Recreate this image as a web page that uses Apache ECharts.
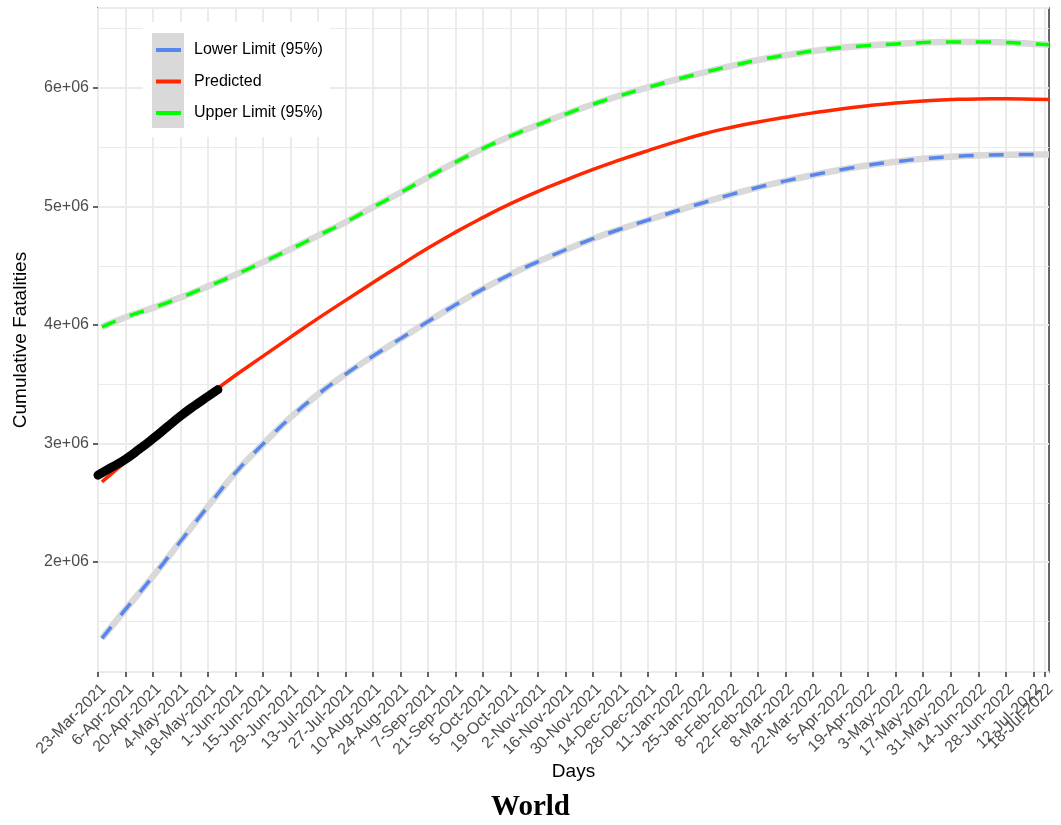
<!DOCTYPE html>
<html>
<head>
<meta charset="utf-8">
<title>World</title>
<script src="https://cdn.jsdelivr.net/npm/echarts@6/dist/echarts.min.js"></script>
<style>
  html, body { margin: 0; padding: 0; background: #ffffff; }
  #chart { width: 1061px; height: 825px; }
</style>
</head>
<body>
<div id="chart"></div>
<script>
// Axis tick labels along the date axis (every two weeks, plus the last forecast day)
const tickLabels = [
  '23-Mar-2021', '6-Apr-2021', '20-Apr-2021', '4-May-2021', '18-May-2021',
  '1-Jun-2021', '15-Jun-2021', '29-Jun-2021', '13-Jul-2021', '27-Jul-2021',
  '10-Aug-2021', '24-Aug-2021', '7-Sep-2021', '21-Sep-2021', '5-Oct-2021',
  '19-Oct-2021', '2-Nov-2021', '16-Nov-2021', '30-Nov-2021', '14-Dec-2021',
  '28-Dec-2021', '11-Jan-2022', '25-Jan-2022', '8-Feb-2022', '22-Feb-2022',
  '8-Mar-2022', '22-Mar-2022', '5-Apr-2022', '19-Apr-2022', '3-May-2022',
  '17-May-2022', '31-May-2022', '14-Jun-2022', '28-Jun-2022', '12-Jul-2022',
  '18-Jul-2022'
];

// Forecast dates
const forecastDates = [
  '25-Mar-2021', '6-Apr-2021', '20-Apr-2021', '4-May-2021', '18-May-2021',
  '1-Jun-2021', '15-Jun-2021', '29-Jun-2021', '13-Jul-2021', '27-Jul-2021',
  '10-Aug-2021', '24-Aug-2021', '7-Sep-2021', '21-Sep-2021', '5-Oct-2021',
  '19-Oct-2021', '2-Nov-2021', '16-Nov-2021', '30-Nov-2021', '14-Dec-2021',
  '28-Dec-2021', '11-Jan-2022', '25-Jan-2022', '8-Feb-2022', '22-Feb-2022',
  '8-Mar-2022', '22-Mar-2022', '5-Apr-2022', '19-Apr-2022', '3-May-2022',
  '17-May-2022', '31-May-2022', '14-Jun-2022', '28-Jun-2022', '12-Jul-2022',
  '20-Jul-2022'
];

// Cumulative fatalities (millions)
const predicted = [
  2.676, 2.845, 3.035, 3.220, 3.403, 3.576, 3.737, 3.898, 4.056, 4.208,
  4.358, 4.505, 4.650, 4.784, 4.908, 5.024, 5.128, 5.222, 5.313, 5.395,
  5.472, 5.545, 5.612, 5.667, 5.713, 5.753, 5.790, 5.823, 5.851, 5.874,
  5.891, 5.902, 5.908, 5.909, 5.906, 5.903
];
const upperLimit = [
  3.983, 4.065, 4.145, 4.232, 4.326, 4.425, 4.531, 4.640, 4.754, 4.868,
  4.995, 5.118, 5.248, 5.374, 5.490, 5.595, 5.690, 5.780, 5.863, 5.938,
  6.005, 6.070, 6.130, 6.185, 6.236, 6.277, 6.312, 6.339, 6.358, 6.372,
  6.383, 6.389, 6.389, 6.384, 6.372, 6.365
];
const lowerLimit = [
  1.356, 1.600, 1.880, 2.175, 2.470, 2.755, 2.995, 3.220, 3.415, 3.585,
  3.738, 3.885, 4.030, 4.170, 4.305, 4.428, 4.535, 4.635, 4.728, 4.810,
  4.886, 4.960, 5.032, 5.100, 5.162, 5.216, 5.266, 5.310, 5.348, 5.378,
  5.403, 5.420, 5.431, 5.437, 5.439, 5.439
];

// Reported cumulative fatalities (millions)
const observedDates = [
  '23-Mar-2021', '30-Mar-2021', '6-Apr-2021', '13-Apr-2021', '20-Apr-2021',
  '27-Apr-2021', '4-May-2021', '11-May-2021', '18-May-2021', '23-May-2021'
];
const observed = [2.733, 2.800, 2.868, 2.952, 3.042, 3.137, 3.232, 3.318, 3.398, 3.455];

// Day-by-day category axis from the first report to the end of the forecast
const MONTHS = ['Jan','Feb','Mar','Apr','May','Jun','Jul','Aug','Sep','Oct','Nov','Dec'];
function dayLabel(d) {
  return d.getUTCDate() + '-' + MONTHS[d.getUTCMonth()] + '-' + d.getUTCFullYear();
}
const days = [];
for (let t = Date.UTC(2021, 2, 23); t <= Date.UTC(2022, 6, 20); t += 86400000) {
  days.push(dayLabel(new Date(t)));
}
const tickSet = new Set(tickLabels);
const isTick = (idx) => tickSet.has(days[idx]);

const pairs = (dates, vals) => dates.map((d, i) => [d, vals[i] * 1e6]);

const FONT = 'Liberation Sans, Arial, Helvetica, sans-serif';
const GRID_COLOR = '#EBEBEB';
const BAND = '#D9D9D9';
const BLUE = '#5787EC';
const RED = '#FF2600';
const GREEN = '#00FF00';
const SMOOTH = 0.5;

const chart = echarts.init(document.getElementById('chart'), null, { renderer: 'canvas' });

function limitLine(name, vals, color) {
  return {
    name: name, type: 'line', z: 3,
    data: pairs(forecastDates, vals), showSymbol: false, symbol: 'none',
    smooth: SMOOTH, color: color,
    lineStyle: { color: color, width: 3.5, type: [15, 15] }
  };
}
function bandLine(name, vals) {
  return {
    name: name, type: 'line', z: 2, silent: true,
    data: pairs(forecastDates, vals), showSymbol: false, symbol: 'none',
    smooth: SMOOTH,
    lineStyle: { color: BAND, width: 6.5 }
  };
}

const option = {
  animation: false,
  backgroundColor: '#ffffff',
  title: {
    text: 'World',
    left: 'center',
    top: 788,
    textStyle: { fontFamily: 'Liberation Serif, Times New Roman, serif', fontWeight: 'bold', fontSize: 29, color: '#000' }
  },
  grid: {
    left: 98, right: 12, top: 8, bottom: 153,
    outerBoundsMode: 'none',
    containLabel: false,
    show: true, borderColor: '#333333', borderWidth: 1.5, backgroundColor: 'transparent'
  },
  legend: {
    orient: 'vertical',
    left: 156,
    top: 40,
    padding: 0,
    itemGap: 11.5,
    itemWidth: 25,
    itemHeight: 4,
    icon: 'rect',
    z: 10,
    data: ['Lower Limit (95%)', 'Predicted', 'Upper Limit (95%)'],
    textStyle: { fontFamily: FONT, fontSize: 16, color: '#000', lineHeight: 20, padding: [0, 0, 0, 8] }
  },
  graphic: [
    { type: 'rect', z: 5, shape: { x: 143, y: 22, width: 187, height: 115 }, style: { fill: '#ffffff' }, silent: true },
    { type: 'rect', z: 6, shape: { x: 152, y: 33, width: 32, height: 95 }, style: { fill: BAND }, silent: true }
  ],
  xAxis: {
    type: 'category',
    data: days,
    boundaryGap: false,
    name: 'Days',
    nameLocation: 'middle',
    nameGap: 90,
    nameMoveOverlap: false,
    nameTextStyle: { fontFamily: FONT, fontSize: 19, color: '#000' },
    axisLine: { show: false },
    axisTick: { show: true, interval: isTick, length: 5, lineStyle: { color: '#333333', width: 1.5 } },
    axisLabel: {
      interval: 0,
      formatter: v => (tickSet.has(v) ? v : ''),
      rotate: 45,
      margin: 9,
      align: 'right',
      verticalAlign: 'top',
      fontFamily: FONT,
      fontSize: 16,
      color: '#4D4D4D',
      hideOverlap: false
    },
    splitLine: { show: true, interval: isTick, lineStyle: { color: GRID_COLOR, width: 2 } }
  },
  yAxis: {
    type: 'value',
    min: 1072000,
    max: 6675000,
    splitNumber: 5,
    name: 'Cumulative Fatalities',
    nameLocation: 'middle',
    nameRotate: 90,
    nameGap: 68,
    nameMoveOverlap: false,
    nameTextStyle: { fontFamily: FONT, fontSize: 19, color: '#000' },
    axisLine: { show: false },
    axisTick: { show: true, length: 5, lineStyle: { color: '#333333', width: 1.5 } },
    axisLabel: {
      margin: 9,
      fontFamily: FONT,
      fontSize: 16,
      color: '#4D4D4D',
      showMinLabel: false,
      showMaxLabel: false,
      formatter: v => (v % 1e6 === 0 ? (v / 1e6) + 'e+06' : '')
    },
    splitLine: { show: true, lineStyle: { color: GRID_COLOR, width: 2 } },
    minorTick: { show: false, splitNumber: 2 },
    minorSplitLine: { show: true, lineStyle: { color: GRID_COLOR, width: 1 } }
  },
  series: [
    bandLine('Lower band', lowerLimit),
    bandLine('Upper band', upperLimit),
    limitLine('Lower Limit (95%)', lowerLimit, BLUE),
    limitLine('Upper Limit (95%)', upperLimit, GREEN),
    {
      name: 'Predicted', type: 'line', z: 3,
      data: pairs(forecastDates, predicted), showSymbol: false, symbol: 'none',
      smooth: SMOOTH, color: RED,
      lineStyle: { color: RED, width: 3.5 }
    },
    {
      name: 'Observed', type: 'line', z: 4,
      data: pairs(observedDates, observed), showSymbol: false, symbol: 'none',
      smooth: SMOOTH, color: '#000000',
      lineStyle: { color: '#000000', width: 9, cap: 'round', join: 'round' }
    }
  ]
};

chart.setOption(option);
</script>
</body>
</html>
